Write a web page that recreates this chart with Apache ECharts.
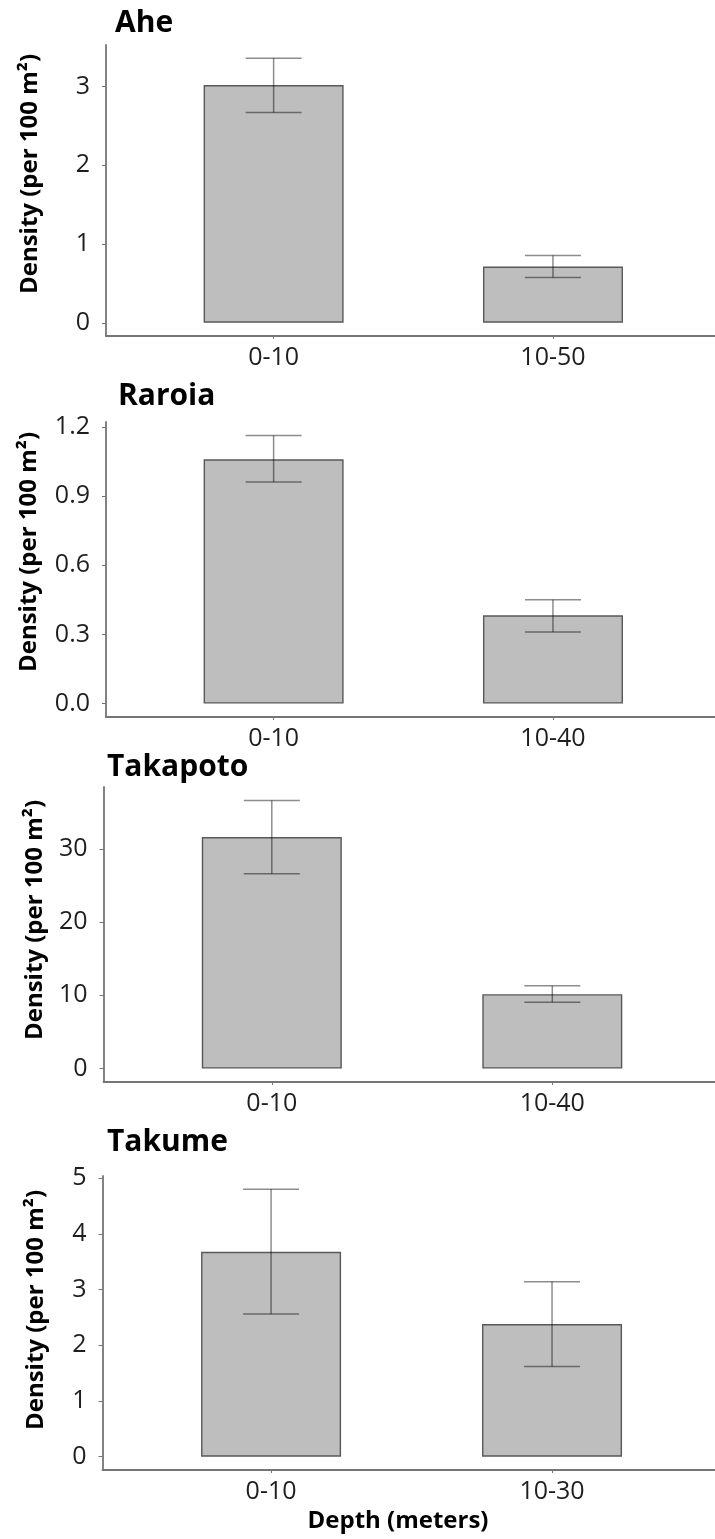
<!DOCTYPE html>
<html>
<head>
<meta charset="utf-8">
<script src="https://cdn.jsdelivr.net/npm/echarts@6/dist/echarts.min.js"></script>
<style>
html,body{margin:0;padding:0;background:#fff;}
#chart{width:715px;height:1539px;}
</style>
</head>
<body>
<div id="chart"></div>
<script>
// ---- data ----
const panelNames = ['Ahe', 'Raroia', 'Takapoto', 'Takume'];
const depthCats = [['0-10', '10-50'], ['0-10', '10-40'], ['0-10', '10-40'], ['0-10', '10-30']];
const meanValues = [[3.02, 0.715], [1.06, 0.383], [31.6, 10.15], [3.68, 2.38]];
const errLow = [[2.67, 0.575], [0.962, 0.311], [26.6, 9.06], [2.56, 1.62]];
const errHigh = [[3.36, 0.855], [1.164, 0.451], [36.6, 11.29], [4.80, 3.14]];
const yTicks = [[0, 1, 2, 3], [0, 0.3, 0.6, 0.9, 1.2], [0, 10, 20, 30], [0, 1, 2, 3, 4, 5]];
const yTickDecimals = [0, 1, 0, 0];
const yTitle = 'Density (per 100 m²)';
const xTitle = 'Depth (meters)';

// ---- layout ----
const gridPos = [
  {left: 106, top: 45, height: 291},
  {left: 106, top: 422, height: 295},
  {left: 103.5, top: 787, height: 295},
  {left: 102.5, top: 1176, height: 294}
];
const titlePos = [[115, 23], [118, 396], [107, 767], [107, 1142]];
const yTitlePos = [[30, 174], [29, 552], [35, 920], [36, 1310]];

const FONT = '"Open Sans", "Noto Sans", sans-serif';
const axisColor = '#757575';
const errStyle = {stroke: 'rgba(0,0,0,0.45)', lineWidth: 1.5};

const chart = echarts.init(document.getElementById('chart'), null, {renderer: 'canvas'});

const grids = [], xAxes = [], yAxes = [], series = [], graphics = [];

panelNames.forEach((name, i) => {
  const g = gridPos[i];
  grids.push({left: g.left, top: g.top, height: g.height, right: 0, containLabel: false});
  const cats = depthCats[i];
  xAxes.push({
    type: 'value', gridIndex: i, min: -0.6, max: 1.58,
    splitLine: {show: false},
    axisLine: {show: true, onZero: false, lineStyle: {color: axisColor, width: 1.8}},
    axisTick: {show: true, length: 3, customValues: [0, 1], lineStyle: {color: axisColor}},
    axisLabel: {
      customValues: [0, 1], margin: 9,
      formatter: v => cats[Math.round(v)],
      fontFamily: FONT, fontSize: 25, color: '#1e1e1e'
    }
  });
  const top = Math.max(...errHigh[i]);
  const dec = yTickDecimals[i];
  yAxes.push({
    type: 'value', gridIndex: i, min: -0.05 * top, max: 1.05 * top,
    splitLine: {show: false},
    axisLine: {show: true, onZero: false, lineStyle: {color: axisColor, width: 1.8}},
    axisTick: {show: true, length: 4, customValues: yTicks[i], lineStyle: {color: axisColor}},
    axisLabel: {
      customValues: yTicks[i], margin: 16,
      formatter: v => Number(v).toFixed(dec),
      fontFamily: FONT, fontSize: 25, color: '#1e1e1e'
    }
  });
  series.push({
    type: 'bar', xAxisIndex: i, yAxisIndex: i, barWidth: 140,
    data: cats.map((c, j) => [j, meanValues[i][j]]),
    itemStyle: {color: '#bebebe', borderColor: '#585858', borderWidth: 1.4},
    silent: true
  });
  series.push({
    type: 'custom', xAxisIndex: i, yAxisIndex: i,
    data: cats.map((c, j) => [j, errLow[i][j], errHigh[i][j]]),
    encode: {x: 0, y: [1, 2]},
    z: 5,
    renderItem: (params, api) => {
      const x = api.value(0);
      const pHi = api.coord([x, api.value(2)]);
      const pLo = api.coord([x, api.value(1)]);
      const half = 28;
      return {type: 'group', children: [
        {type: 'line', shape: {x1: pHi[0], y1: pHi[1], x2: pLo[0], y2: pLo[1]}, style: errStyle},
        {type: 'line', shape: {x1: pHi[0] - half, y1: pHi[1], x2: pHi[0] + half, y2: pHi[1]}, style: errStyle},
        {type: 'line', shape: {x1: pLo[0] - half, y1: pLo[1], x2: pLo[0] + half, y2: pLo[1]}, style: errStyle}
      ]};
    }
  });
  graphics.push({
    type: 'text', x: titlePos[i][0], y: titlePos[i][1],
    style: {text: name, font: 'bold 30px ' + FONT, fill: '#000', textAlign: 'left', textVerticalAlign: 'middle'}
  });
  graphics.push({
    type: 'text', x: yTitlePos[i][0], y: yTitlePos[i][1], rotation: Math.PI / 2,
    style: {text: yTitle, font: 'bold 24px ' + FONT, fill: '#000', textAlign: 'center', textVerticalAlign: 'middle'}
  });
});

graphics.push({
  type: 'text', x: 398, y: 1521,
  style: {text: xTitle, font: 'bold 24px ' + FONT, fill: '#000', textAlign: 'center', textVerticalAlign: 'middle'}
});

chart.setOption({
  animation: false,
  backgroundColor: '#fff',
  grid: grids,
  xAxis: xAxes,
  yAxis: yAxes,
  series: series,
  graphic: graphics
});
</script>
</body>
</html>
